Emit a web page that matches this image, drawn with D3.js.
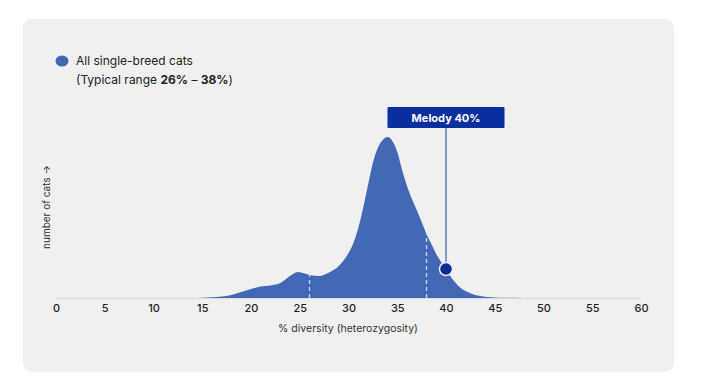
<!DOCTYPE html>
<html><head><meta charset="utf-8">
<script src="https://cdn.jsdelivr.net/npm/d3@7"></script>
<style>
html,body{margin:0;padding:0;background:#fff;}
svg{display:block;font-family:Inter,"Open Sans",sans-serif;}
</style></head>
<body><svg id="c" width="720" height="384"></svg>
<script>
const diversity = [0,5,10,14,15,16,17,18,19,20,21,22,23,24,24.8,25.5,26,27,28,29,30,30.5,31,31.5,32,32.5,33,33.5,34,34.5,35,35.5,36,36.5,37,37.5,38,38.5,39,39.5,40,40.5,41,41.5,42,43,44,45,46,48,55,60];
const cats = [0,0,0,0.1,0.3,0.8,1.5,3,6,9,11.5,12.5,15,22,26,24.5,23,22,25.5,32,45,55,70,90,113,135,150,158,161,157,146,128,112,99,88,76,64,54,44,36,29,21,15,10,7,3,1.2,0.5,0.2,0,0,0];
const xTicks = [0,5,10,15,20,25,30,35,40,45,50,55,60];
const typicalRange = [26, 38];
const melody = 40;
const legendLabel = "All single-breed cats";

const svg = d3.select("#c");
svg.append("rect").attr("x",23).attr("y",19).attr("width",651).attr("height",353).attr("rx",9).attr("fill","#f0f0f0");

const x = d3.scaleLinear().domain([0,60]).range([56,641]);
const y = d3.scaleLinear().domain([0,161]).range([298,137]);
const data = diversity.map((d,i)=>({x:d,y:cats[i]}));

svg.append("line").attr("x1",x(0)).attr("x2",x(60)).attr("y1",y(0)+0.5).attr("y2",y(0)+0.5).attr("stroke","#d9dde6").attr("stroke-width",1.5);

const area = d3.area().x(d=>x(d.x)).y0(y(0)).y1(d=>y(d.y)).curve(d3.curveMonotoneX);
svg.append("path").datum(data).attr("d",area).attr("fill","#4369b6");

const valAt = v => cats[diversity.indexOf(v)];
typicalRange.forEach(v=>{
  svg.append("line").attr("x1",x(v)).attr("x2",x(v)).attr("y1",y(0)).attr("y2",y(valAt(v)))
    .attr("stroke","#c9d3ea").attr("stroke-width",1.3).attr("stroke-dasharray","4,3");
});

// axis
const ax = svg.append("g").attr("transform",`translate(0,${y(0)})`)
  .call(d3.axisBottom(x).tickValues(xTicks).tickSize(0).tickPadding(6));
ax.select(".domain").remove();
ax.selectAll("text").attr("font-size",11).attr("font-weight",500).attr("fill","#1e1e1e").attr("font-family","Inter,sans-serif");

svg.append("text").attr("x",348).attr("y",332).attr("text-anchor","middle").attr("font-size",10.5).attr("fill","#333").text("% diversity (heterozygosity)");
svg.append("text").attr("transform","translate(50,207) rotate(-90)").attr("text-anchor","middle").attr("font-size",10).attr("fill","#333").text("number of cats →");

// legend
svg.append("ellipse").attr("cx",62).attr("cy",61).attr("rx",6.5).attr("ry",5.5).attr("fill","#4369b6");
svg.append("text").attr("x",76).attr("y",65).attr("font-size",12).attr("fill","#222").text(legendLabel);
const t2 = svg.append("text").attr("x",76).attr("y",84).attr("font-size",12).attr("fill","#222");
t2.append("tspan").text("(Typical range ");
t2.append("tspan").attr("font-weight",700).text(typicalRange[0]+"%");
t2.append("tspan").text(" – ");
t2.append("tspan").attr("font-weight",700).text(typicalRange[1]+"%");
t2.append("tspan").text(")");

// melody marker
const mx = x(melody), my = y(valAt(melody));
svg.append("line").attr("x1",mx).attr("x2",mx).attr("y1",128).attr("y2",my).attr("stroke","#4369b6").attr("stroke-width",1.3);
svg.append("rect").attr("x",mx-58.5).attr("y",107).attr("width",117).attr("height",21).attr("fill","#0b2f9f").attr("rx",1);
svg.append("text").attr("x",mx).attr("y",122).attr("text-anchor","middle").attr("font-size",11).attr("font-weight",700).attr("fill","#fff").text("Melody "+melody+"%");
svg.append("circle").attr("cx",mx).attr("cy",my).attr("r",6.5).attr("fill","#0b2a94").attr("stroke","#e8ecf5").attr("stroke-width",1.5);
</script></body></html>
